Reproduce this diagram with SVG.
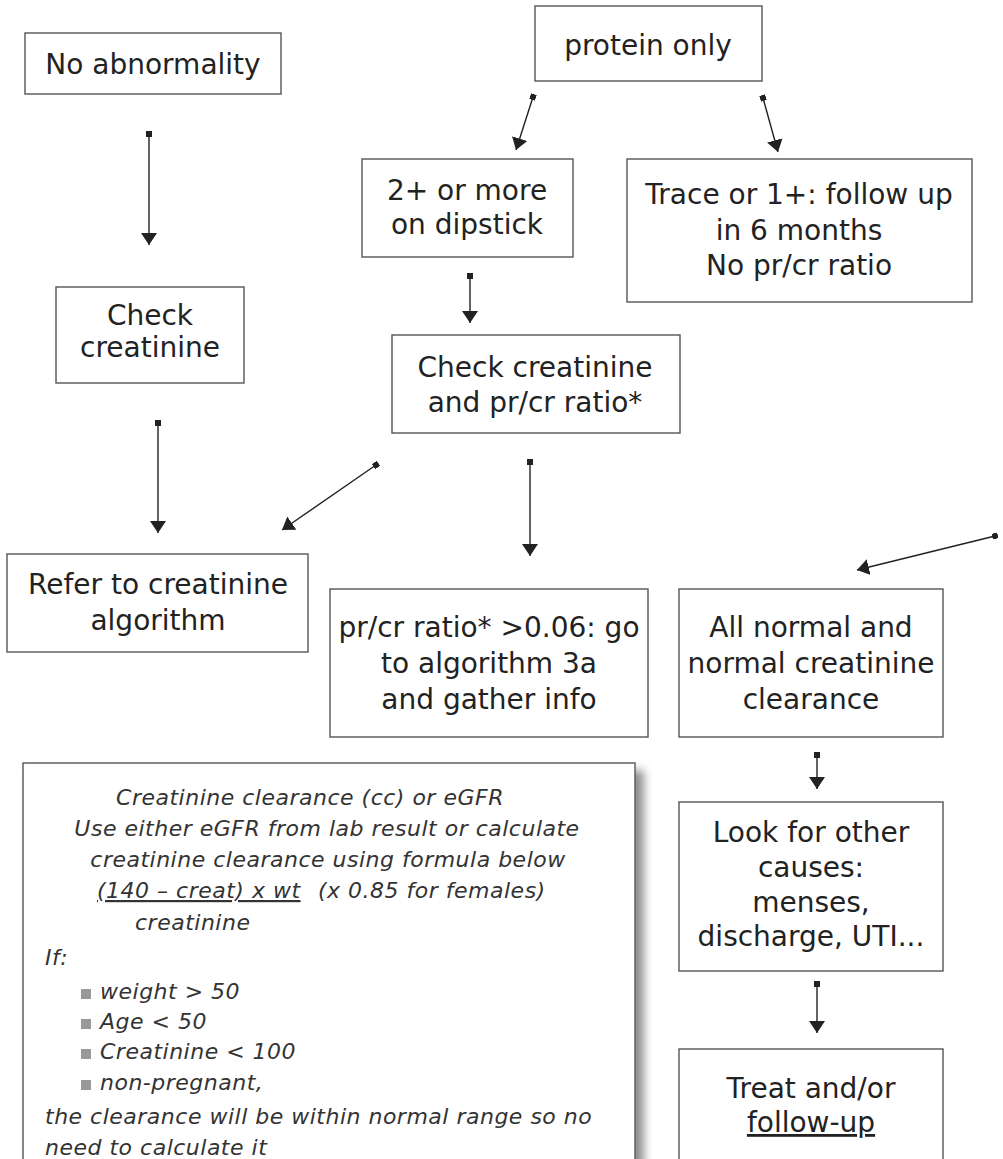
<svg xmlns="http://www.w3.org/2000/svg" width="1003" height="1159" viewBox="0 0 1003 1159">
<style>
.box{fill:#fff;stroke:#555;stroke-width:1.4}
.t{font-family:"DejaVu Sans","Liberation Sans",sans-serif;font-size:28px;fill:#222;text-anchor:middle}
.n{font-family:"DejaVu Sans","Liberation Sans",sans-serif;font-size:22px;font-style:italic;fill:#333;letter-spacing:0.5px}
.c{text-anchor:middle}
.bul{fill:#999}
.conn line{stroke:#222;stroke-width:1.4;marker-start:url(#sq);marker-end:url(#arr)}
</style>
<defs>
<marker id="arr" markerUnits="userSpaceOnUse" markerWidth="14" markerHeight="18" refX="12" refY="8" orient="auto">
<path d="M0,0 L12,8 L0,16 z" fill="#222"/>
</marker>
<marker id="sq" markerUnits="userSpaceOnUse" markerWidth="6" markerHeight="6" refX="3" refY="3" orient="auto">
<rect x="0" y="0" width="6" height="6" fill="#222"/>
</marker>
<filter id="sh" x="-5%" y="-5%" width="115%" height="115%">
<feDropShadow dx="8" dy="8" stdDeviation="5" flood-color="#000" flood-opacity="0.45"/>
</filter>
</defs>
<rect width="1003" height="1159" fill="#fff"/>

<g id="no-abnormality">
<rect class="box" x="25" y="33" width="256" height="61"/>
<text class="t" x="153" y="74">No abnormality</text>
</g>

<g id="protein-only">
<rect class="box" x="535" y="6" width="227" height="75"/>
<text class="t" x="648" y="55">protein only</text>
</g>

<g id="two-plus">
<rect class="box" x="362" y="159" width="211" height="98"/>
<text class="t" x="467" y="200">2+ or more</text>
<text class="t" x="467" y="234">on dipstick</text>
</g>

<g id="trace">
<rect class="box" x="627" y="159" width="345" height="143"/>
<text class="t" x="799" y="204">Trace or 1+: follow up</text>
<text class="t" x="799" y="240">in 6 months</text>
<text class="t" x="799" y="275">No pr/cr ratio</text>
</g>

<g id="check-creatinine">
<rect class="box" x="56" y="287" width="188" height="96"/>
<text class="t" x="150" y="325">Check</text>
<text class="t" x="150" y="357">creatinine</text>
</g>

<g id="check-creatinine-ratio">
<rect class="box" x="392" y="335" width="288" height="98"/>
<text class="t" x="535" y="377">Check creatinine</text>
<text class="t" x="535" y="412">and pr/cr ratio*</text>
</g>

<g id="refer">
<rect class="box" x="7" y="554" width="301" height="98"/>
<text class="t" x="158" y="594">Refer to creatinine</text>
<text class="t" x="158" y="630">algorithm</text>
</g>

<g id="ratio-high">
<rect class="box" x="330" y="589" width="318" height="148"/>
<text class="t" x="489" y="637">pr/cr ratio* &gt;0.06: go</text>
<text class="t" x="489" y="673">to algorithm 3a</text>
<text class="t" x="489" y="709">and gather info</text>
</g>

<g id="all-normal">
<rect class="box" x="679" y="589" width="264" height="148"/>
<text class="t" x="811" y="637">All normal and</text>
<text class="t" x="811" y="673">normal creatinine</text>
<text class="t" x="811" y="709">clearance</text>
</g>

<g id="look-other">
<rect class="box" x="679" y="802" width="264" height="169"/>
<text class="t" x="811" y="842">Look for other</text>
<text class="t" x="811" y="877">causes:</text>
<text class="t" x="811" y="912">menses,</text>
<text class="t" x="811" y="946">discharge, UTI...</text>
</g>

<g id="treat">
<rect class="box" x="679" y="1049" width="264" height="130"/>
<text class="t" x="811" y="1098">Treat and/or</text>
<text class="t" x="811" y="1132" text-decoration="underline">follow-up</text>
</g>

<g id="note">
<rect x="23" y="763" width="612" height="420" fill="#fff" stroke="#555" stroke-width="1.4" filter="url(#sh)"/>
<text class="n c" x="310" y="805">Creatinine clearance (cc) or eGFR</text>
<text class="n c" x="327" y="836">Use either eGFR from lab result or calculate</text>
<text class="n c" x="328" y="867">creatinine clearance using formula below</text>
<text class="n" x="97" y="898" text-decoration="underline">(140 – creat) x wt</text>
<text class="n" x="318" y="898">(x 0.85 for females)</text>
<text class="n" x="135" y="930">creatinine</text>
<text class="n" x="45" y="965">If:</text>
<rect class="bul" x="81" y="989" width="10" height="10"/>
<text class="n" x="100" y="999">weight &gt; 50</text>
<rect class="bul" x="81" y="1019" width="10" height="10"/>
<text class="n" x="100" y="1029">Age &lt; 50</text>
<rect class="bul" x="81" y="1049" width="10" height="10"/>
<text class="n" x="100" y="1059">Creatinine &lt; 100</text>
<rect class="bul" x="81" y="1080" width="10" height="10"/>
<text class="n" x="100" y="1090">non-pregnant,</text>
<text class="n" x="45" y="1124">the clearance will be within normal range so no</text>
<text class="n" x="45" y="1155">need to calculate it</text>
</g>

<g id="connectors" class="conn">
<line x1="149" y1="134" x2="149" y2="245"/>
<line x1="533" y1="97" x2="516" y2="150"/>
<line x1="763" y1="98" x2="778" y2="152"/>
<line x1="470" y1="276" x2="470" y2="323"/>
<line x1="158" y1="423" x2="158" y2="533"/>
<line x1="376" y1="465" x2="282" y2="530"/>
<line x1="530" y1="462" x2="530" y2="556"/>
<line x1="995" y1="536" x2="857" y2="570"/>
<line x1="817" y1="755" x2="817" y2="789"/>
<line x1="817" y1="984" x2="817" y2="1033"/>
</g>
</svg>
